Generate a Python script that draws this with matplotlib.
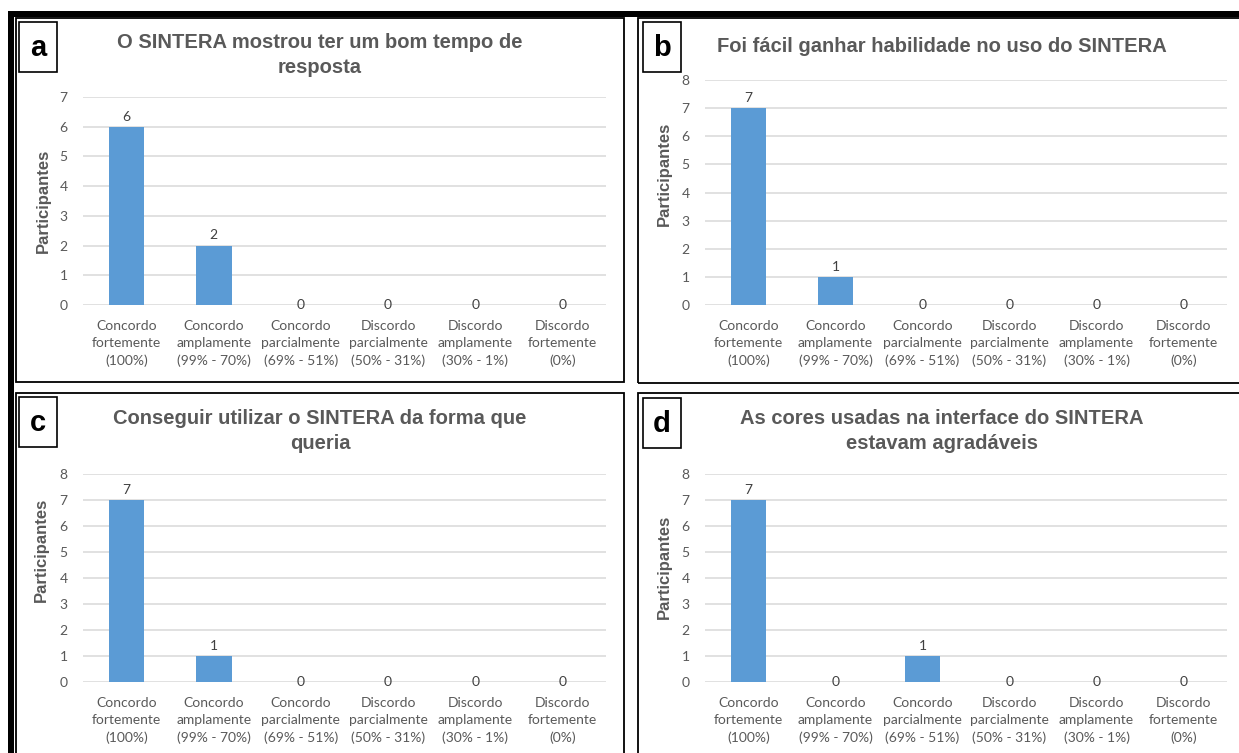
import matplotlib
matplotlib.use("Agg")
import matplotlib.pyplot as plt
from matplotlib.patches import Rectangle

# ---- data ----
categories = [
    "Concordo\nfortemente\n(100%)",
    "Concordo\namplamente\n(99% - 70%)",
    "Concordo\nparcialmente\n(69% - 51%)",
    "Discordo\nparcialmente\n(50% - 31%)",
    "Discordo\namplamente\n(30% - 1%)",
    "Discordo\nfortemente\n(0%)",
]
values_a = [6, 2, 0, 0, 0, 0]
values_b = [7, 1, 0, 0, 0, 0]
values_c = [7, 1, 0, 0, 0, 0]
values_d = [7, 0, 1, 0, 0, 0]
title_a = "O SINTERA mostrou ter um bom tempo de\nresposta"
title_b = "Foi fácil ganhar habilidade no uso do SINTERA"
title_c = "Conseguir utilizar o SINTERA da forma que\nqueria"
title_d = "As cores usadas na interface do SINTERA\nestavam agradáveis"
ymax_a, ymax_b, ymax_c, ymax_d = 7, 8, 8, 8
ylabel = "Participantes"

W, H = 1239, 753
fig = plt.figure(figsize=(W / 100, H / 100), dpi=100)
fig.patch.set_facecolor("white")

BAR = "#5B9BD5"
GRID = "#D9D9D9"
TXT = "#595959"
CAT_FONT = ["Lato", "DejaVu Sans"]
HEAD_FONT = ["Liberation Sans", "DejaVu Sans"]


def fx(x):
    return x / W


def fy(y):
    return 1 - y / H


def frame(x0, y0, x1, y1, lw=1.3, color="black", fill=False):
    fig.add_artist(Rectangle((fx(x0), fy(y1)), fx(x1) - fx(x0), fy(y0) - fy(y1),
                             transform=fig.transFigure, fill=fill,
                             facecolor=color if fill else "none",
                             edgecolor=color, linewidth=lw, clip_on=False))


# heavy outer border (top and left)
frame(8, 11, 1245, 17, lw=0, fill=True)
frame(8, 11, 14, 760, lw=0, fill=True)

# panel frames
frame(16, 18, 624, 382)
frame(638, 18, 1260, 383)
frame(16, 393, 624, 770)
frame(638, 393, 1260, 770)

panels = [
    # letter, values, title, ymax, axes box (left, top, right, bottom), title y, ylabel pos, letter box, title x
    ("a", values_a, title_a, ymax_a, (83, 97, 606, 305), 55, (43, 201), (19, 22, 57, 72), 320),
    ("b", values_b, title_b, ymax_b, (705, 80, 1227, 305), 46, (664, 174), (643, 22, 681, 72), 942),
    ("c", values_c, title_c, ymax_c, (83, 474, 606, 682), 431, (41, 550), (19, 397, 57, 447), 320),
    ("d", values_d, title_d, ymax_d, (705, 474, 1227, 682), 431, (664, 567), (643, 398, 681, 448), 942),
]

for letter, vals, title, ymax, (l, t, r, b), ty, (lx, ly), (bx0, by0, bx1, by1), tx in panels:
    ax = fig.add_axes([fx(l), fy(b), fx(r) - fx(l), fy(t) - fy(b)])
    xs = list(range(len(categories)))
    ax.bar(xs, vals, width=0.41, color=BAR, zorder=3)
    ax.set_xlim(-0.5, len(categories) - 0.5)
    ax.set_ylim(0, ymax)
    ax.set_yticks(range(0, ymax + 1))
    ax.yaxis.grid(True, color=GRID, linewidth=1.1, zorder=0)
    ax.set_axisbelow(True)
    for s in ax.spines.values():
        s.set_visible(False)
    ax.tick_params(axis="both", length=0, colors=TXT, labelsize=10)
    ax.tick_params(axis="y", pad=11)
    ax.tick_params(axis="x", pad=11)
    ax.set_xticks(xs)
    ax.set_xticklabels(categories, fontfamily=CAT_FONT, linespacing=1.5)
    for lab in ax.get_yticklabels():
        lab.set_fontfamily(CAT_FONT)
    for x, v in zip(xs, vals):
        if v > 0:
            ax.annotate(str(v), (x, v), xytext=(0, 3), textcoords="offset points",
                        ha="center", va="bottom", fontsize=10, color="#404040",
                        fontfamily=CAT_FONT)
        else:
            ax.annotate(str(v), (x, v), xytext=(0, 0), textcoords="offset points",
                        ha="center", va="center", fontsize=10, color="#404040",
                        fontfamily=CAT_FONT)
    fig.text(fx(tx), fy(ty), title, ha="center", va="center", fontsize=14.5,
             fontweight="bold", color=TXT, fontfamily=HEAD_FONT, linespacing=1.45)
    fig.text(fx(lx), fy(ly), ylabel, rotation=90, ha="center", va="center",
             fontsize=12, fontweight="bold", color=TXT, fontfamily=HEAD_FONT)
    frame(bx0, by0, bx1, by1, lw=1.2)
    fig.text(fx((bx0 + bx1) / 2), fy((by0 + by1) / 2 + 1), letter, ha="center",
             va="center", fontsize=21, fontweight="bold", color="black",
             fontfamily=HEAD_FONT)

fig.savefig("out.png", dpi=100)
